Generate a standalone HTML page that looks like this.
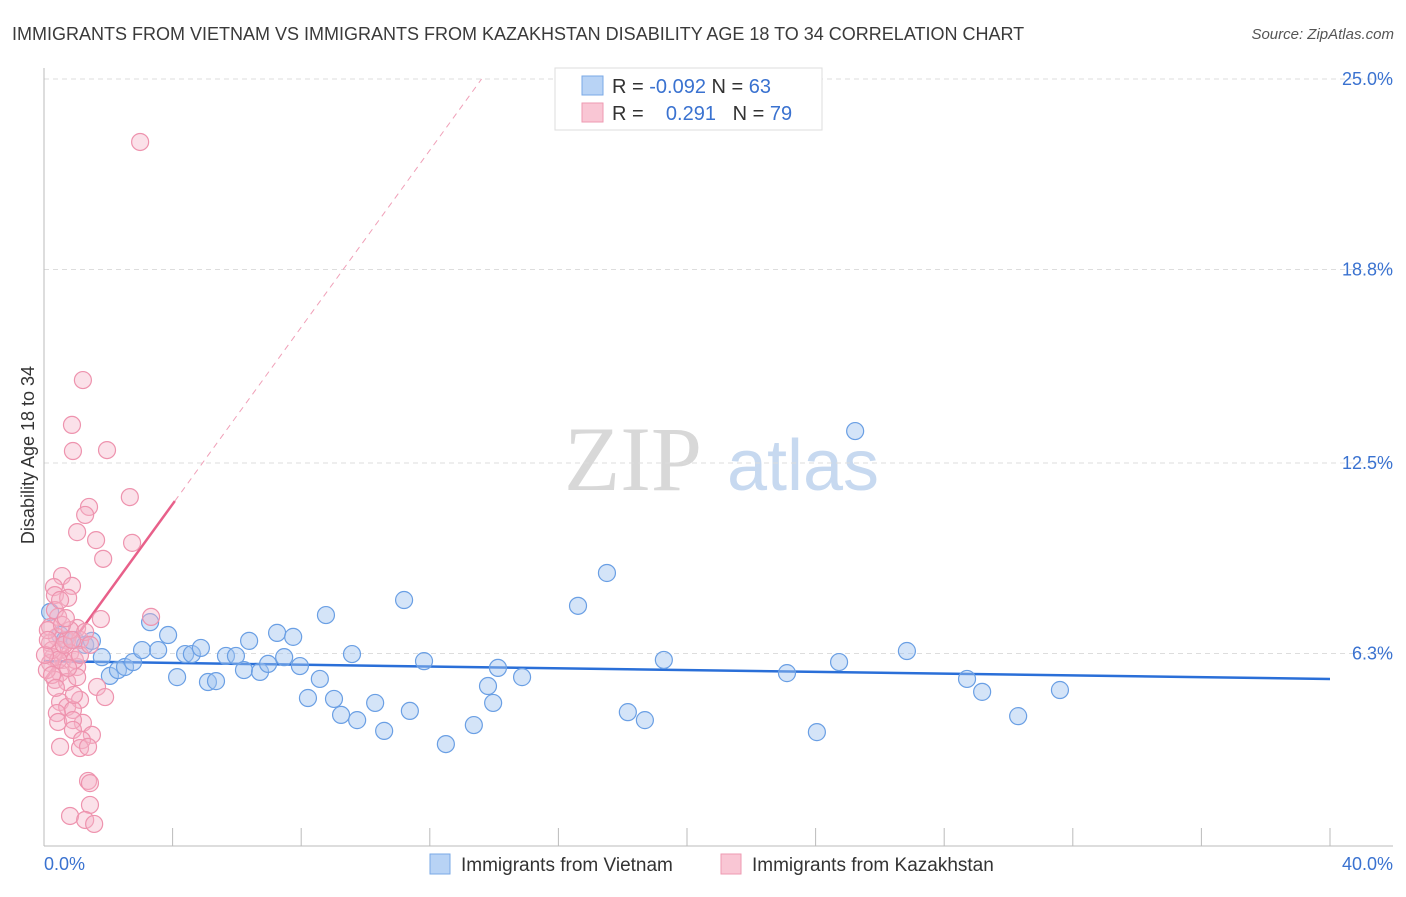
<!DOCTYPE html>
<html><head><meta charset="utf-8"><style>
body{margin:0;background:#fff;font-family:"Liberation Sans",sans-serif}
</style></head><body>
<svg width="1406" height="892" xmlns="http://www.w3.org/2000/svg" font-family="Liberation Sans, sans-serif">
<text x="12" y="40" font-size="18" fill="#3a3a3a">IMMIGRANTS FROM VIETNAM VS IMMIGRANTS FROM KAZAKHSTAN DISABILITY AGE 18 TO 34 CORRELATION CHART</text>
<text x="1394" y="39" font-size="15" fill="#555" font-style="italic" text-anchor="end">Source: ZipAtlas.com</text>
<g><text x="633" y="490" font-size="92" font-family="Liberation Serif, serif" fill="#d8d8d8" text-anchor="middle">ZIP</text><text x="803" y="490" font-size="72" fill="#c7d9f0" text-anchor="middle">atlas</text></g>
<g id="grid"></g>
<g id="axes"></g>
<g id="lines"></g>
<g id="pts"></g>
<text transform="translate(34,455) rotate(-90)" font-size="18" fill="#333" text-anchor="middle">Disability Age 18 to 34</text>
<g>
<rect x="555" y="68" width="267" height="62" fill="#fff" stroke="#ddd"/>
<rect x="582" y="76" width="21" height="19" fill="#b8d3f5" stroke="#7aa8e6"/>
<text x="612" y="93" font-size="20" fill="#333">R = <tspan fill="#3a72d0">-0.092</tspan>   N = <tspan fill="#3a72d0">63</tspan></text>
<rect x="582" y="103" width="21" height="19" fill="#f9c6d4" stroke="#ee9ab2"/>
<text x="612" y="120" font-size="20" fill="#333" xml:space="preserve">R =    <tspan fill="#3a72d0">0.291</tspan>   N = <tspan fill="#3a72d0">79</tspan></text>
</g>
<g>
<rect x="430" y="854" width="20" height="20" fill="#b8d3f5" stroke="#7aa8e6"/>
<text x="461" y="871" font-size="19" fill="#333">Immigrants from Vietnam</text>
<rect x="721" y="854" width="20" height="20" fill="#f9c6d4" stroke="#ee9ab2"/>
<text x="752" y="871" font-size="19" fill="#333">Immigrants from Kazakhstan</text>
</g>
<text x="44" y="870" font-size="18" fill="#3a72d0">0.0%</text>
<text x="1393" y="870" font-size="18" fill="#3a72d0" text-anchor="end">40.0%</text>
</svg>
<script>
const yTicks=[25,18.8,12.5,6.3];
const yTickLabels=["25.0%","18.8%","12.5%","6.3%"];
const xTicks=[4,8,12,16,20,24,28,32,36,40];
const vietX=[0.19,0.5,0.65,0.96,1.28,1.49,1.8,2.05,2.3,2.52,2.77,3.05,3.3,3.55,3.86,4.14,4.39,4.6,4.88,5.1,5.35,5.66,5.97,6.22,6.38,6.72,6.97,7.25,7.47,7.75,7.96,8.21,8.58,8.77,9.02,9.24,9.58,9.74,10.3,10.58,11.2,11.38,11.82,12.5,13.37,13.81,13.97,14.12,14.87,16.61,17.51,18.16,18.69,19.28,23.11,24.04,24.73,25.23,26.84,28.71,29.18,30.3,31.6];
const vietY=[7.65,6.9,6.74,6.74,6.58,6.71,6.18,5.57,5.76,5.86,6.02,6.41,7.32,6.41,6.9,5.53,6.28,6.28,6.48,5.37,5.4,6.22,6.22,5.76,6.71,5.7,5.96,6.97,6.18,6.84,5.89,4.85,5.47,7.55,4.82,4.3,6.28,4.13,4.69,3.78,8.04,4.43,6.05,3.35,3.97,5.24,4.69,5.83,5.53,7.85,8.92,4.39,4.13,6.09,5.66,3.74,6.02,13.54,6.38,5.47,5.05,4.26,5.11];
const kazX=[2.99,1.21,0.87,0.9,1.96,2.67,1.4,1.28,1.03,1.62,2.74,1.84,0.56,0.31,0.87,0.34,0.75,0.44,1.77,3.33,1.03,0.19,0.4,0.72,0.19,1.12,0.5,0.28,0.81,0.59,0.19,1.03,0.5,0.34,0.72,1.03,1.65,1.9,1.12,0.5,0.72,0.9,0.4,1.21,0.44,0.9,0.9,1.49,1.18,0.5,1.12,1.37,1.37,1.43,1.43,0.81,1.28,1.56,0.12,0.25,0.44,0.62,0.81,0.96,0.09,0.34,0.56,0.75,1.12,1.28,0.03,0.25,0.5,0.68,0.87,1.43,0.12,0.37,0.93];
const kazY=[22.95,15.2,13.74,12.89,12.92,11.39,11.07,10.81,10.25,9.99,9.9,9.38,8.82,8.46,8.5,8.2,8.11,7.49,7.42,7.49,7.13,7.16,6.84,6.74,6.64,6.74,6.41,6.18,6.32,6.09,5.99,5.86,5.66,5.44,5.37,5.53,5.21,4.88,4.79,4.72,4.56,4.46,4.36,4.04,4.07,4.13,3.81,3.65,3.48,3.26,3.22,3.26,2.15,2.08,1.37,1.01,0.88,0.75,7.06,6.41,6.09,6.58,7.06,6.09,5.76,7.71,7.23,5.83,6.25,7.0,6.25,5.6,8.04,7.45,6.74,6.58,6.74,5.18,4.95];
const vietTrend=[6.05,5.47];
const kazTrend=[5.4,1.44];
const NS="http://www.w3.org/2000/svg";
const X=v=>44+v*(1286/40);
const Y=v=>847-v*(384/12.5);
function mk(tag,attrs,parent){const e=document.createElementNS(NS,tag);for(const k in attrs)e.setAttribute(k,attrs[k]);document.getElementById(parent).appendChild(e);return e;}
yTicks.forEach((t,i)=>{
 const g=mk('line',{x1:44,x2:1393,y1:Y(t),y2:Y(t),stroke:'#ddd','stroke-dasharray':'5,4'},'grid');
 
 
 const l=mk('text',{x:1393,y:Y(t)+6,'font-size':18,fill:'#3a72d0','text-anchor':'end'},'grid');
 l.textContent=yTickLabels[i];
 
 
});
const ya=mk('line',{x1:44,x2:44,y1:68,y2:846,stroke:'#bbb'},'axes');


const xa=mk('line',{x1:44,x2:1393,y1:846,y2:846,stroke:'#bbb'},'axes');


xTicks.forEach(t=>{
 const e=mk('line',{x1:X(t),x2:X(t),y1:828,y2:846,stroke:'#bbb'},'axes');
 
 
});
// trend lines
const bt=mk('line',{x1:X(0),y1:Y(vietTrend[0]),x2:X(40),y2:Y(vietTrend[0]+(vietTrend[1]-vietTrend[0])),stroke:'#2a6fd8','stroke-width':2.5},'lines');


const kx2=(25-kazTrend[0])/kazTrend[1];
const kd=mk('line',{x1:X(4.07),y1:Y(kazTrend[0]+kazTrend[1]*4.07),x2:X(kx2),y2:Y(25),stroke:'#f0a0b8','stroke-width':1,'stroke-dasharray':'6,5'},'lines');


const ks=mk('line',{x1:X(0.05),y1:Y(kazTrend[0]+kazTrend[1]*0.05),x2:X(4.07),y2:Y(kazTrend[0]+kazTrend[1]*4.07),stroke:'#e8608a','stroke-width':2.5},'lines');


vietX.forEach((v,i)=>{
 const c=mk('circle',{cx:X(v),cy:Y(vietY[i]),r:8.5,fill:'rgba(160,196,240,0.45)',stroke:'#6a9fe4','stroke-width':1.2},'pts');
 
 
});
kazX.forEach((v,i)=>{
 const c=mk('circle',{cx:X(v),cy:Y(kazY[i]),r:8.5,fill:'rgba(246,180,200,0.4)',stroke:'#ee93ae','stroke-width':1.2},'pts');
 
 
});
</script>
</body></html>
